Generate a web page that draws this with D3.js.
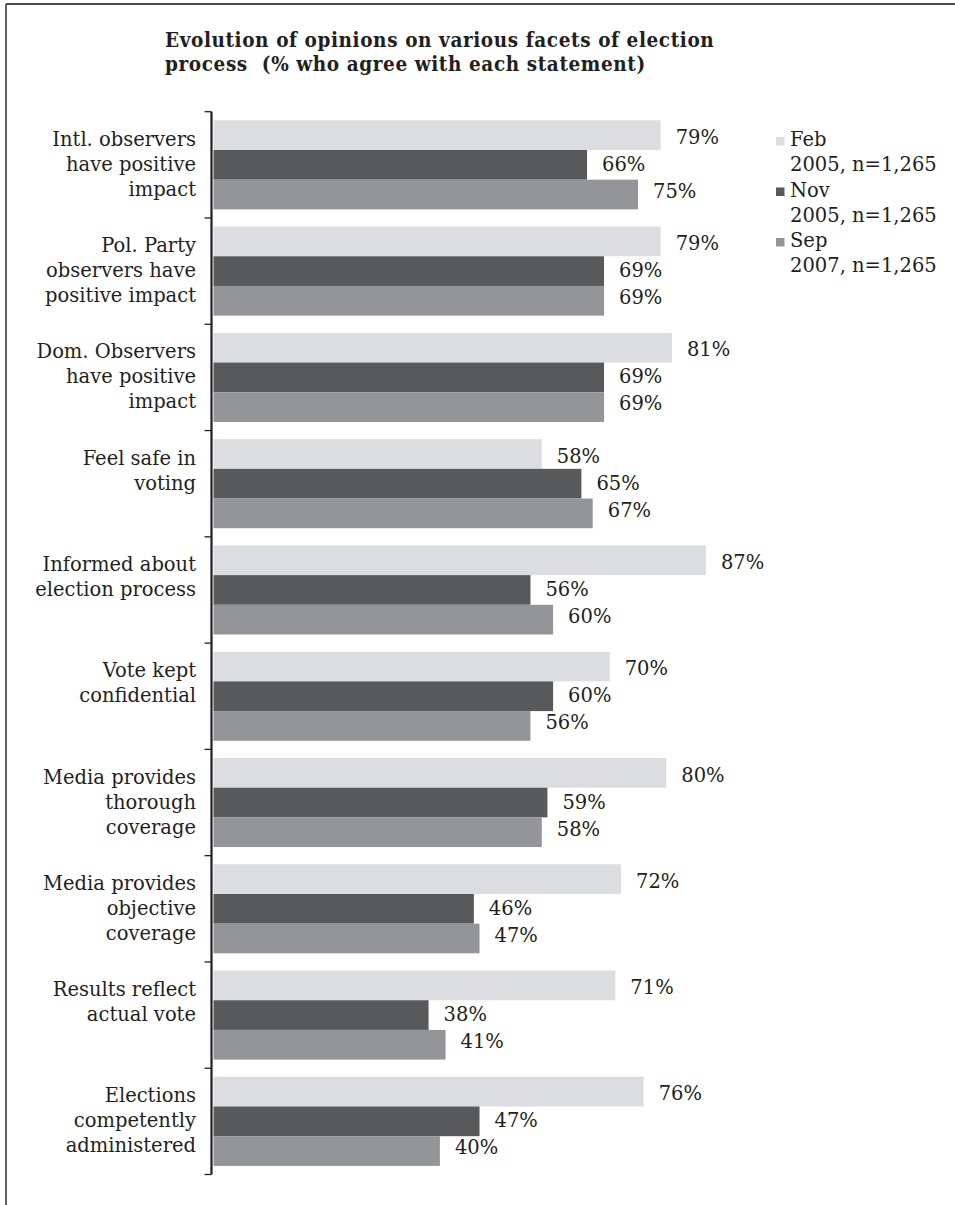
<!DOCTYPE html>
<html>
<head>
<meta charset="utf-8">
<script src="https://cdn.jsdelivr.net/npm/d3@7/dist/d3.min.js"></script>
<style>
  html, body { margin: 0; padding: 0; background: #ffffff; }
  svg { display: block; }
  text { font-family: "DejaVu Serif", serif; fill: #231f20; }
</style>
</head>
<body>
<svg id="chart" width="955" height="1205"></svg>
<script>
// Statements (each split into its display lines)
const categories = [
  ["Intl. observers", "have positive", "impact"],
  ["Pol. Party", "observers have", "positive impact"],
  ["Dom. Observers", "have positive", "impact"],
  ["Feel safe in", "voting"],
  ["Informed about", "election process"],
  ["Vote kept", "confidential"],
  ["Media provides", "thorough", "coverage"],
  ["Media provides", "objective", "coverage"],
  ["Results reflect", "actual vote"],
  ["Elections", "competently", "administered"]
];

// Survey waves and their legend lines
const seriesKeys = ["feb05", "nov05", "sep07"];
const seriesLegend = [
  ["Feb", "2005, n=1,265"],
  ["Nov", "2005, n=1,265"],
  ["Sep", "2007, n=1,265"]
];
const seriesColors = ["#dcdde0", "#58595b", "#939598"];

// % who agree, per statement
const feb05 = [79, 79, 81, 58, 87, 70, 80, 72, 71, 76];
const nov05 = [66, 69, 69, 65, 56, 60, 59, 46, 38, 47];
const sep07 = [75, 69, 69, 67, 60, 56, 58, 47, 41, 40];

const titleLines = [
  "Evolution of opinions on various facets of election",
  "process  (% who agree with each statement)"
];

const seriesValues = [feb05, nov05, sep07];
const rows = categories.map((lines, i) => ({
  key: i,
  lines,
  values: seriesKeys.map((k, s) => ({ key: k, s, value: seriesValues[s][i] }))
}));

const svg = d3.select("#chart");
const ink = "#231f20";

// Frame lines along the top and left edge
svg.append("line").attr("x1", 6).attr("x2", 955).attr("y1", 4).attr("y2", 4)
  .attr("stroke", "#4a4a4a").attr("stroke-width", 2);
svg.append("line").attr("x1", 6).attr("x2", 6).attr("y1", 4).attr("y2", 1205)
  .attr("stroke", "#3a3a3a").attr("stroke-width", 1.6);

// Title
const title = svg.append("text")
  .style("font-family", "'DejaVu Serif Condensed', 'DejaVu Serif', serif")
  .style("font-weight", "bold")
  .style("font-size", "20.5px")
  .style("letter-spacing", "0.6px");
titleLines.forEach((t, i) => {
  title.append("tspan").attr("x", 165).attr("y", 47 + i * 24).attr("xml:space", "preserve").text(t);
});

// Scales
const x = d3.scaleLinear().domain([0, 100]).range([213.5, 779.5]);
const y = d3.scaleBand().domain(rows.map(d => d.key)).range([111.7, 1174.5]).padding(0);
const ySub = d3.scaleBand().domain(seriesKeys).range([0, y.bandwidth()]).paddingInner(0).paddingOuter(0.29);

// Bars
const groups = svg.append("g").selectAll("g")
  .data(rows).join("g")
  .attr("transform", d => `translate(0,${y(d.key)})`);

groups.selectAll("rect")
  .data(d => d.values).join("rect")
  .attr("x", x(0))
  .attr("y", d => ySub(d.key))
  .attr("width", d => x(d.value) - x(0))
  .attr("height", ySub.bandwidth())
  .attr("fill", d => seriesColors[d.s]);

// Value labels, stacked slightly tighter than the bars around the group centre
const labelStep = 27;
groups.selectAll("text.val")
  .data(d => d.values).join("text")
  .attr("class", "val")
  .attr("x", d => x(d.value) + 15)
  .attr("y", d => y.bandwidth() / 2 + (d.s - 1) * labelStep + 6)
  .style("font-size", "19.5px")
  .text(d => d.value + "%");

// Category axis: vertical line with ticks on group boundaries
const axisX = 211.5;
const boundaries = rows.map(d => y(d.key)).concat([y.range()[1]]);
svg.append("line")
  .attr("x1", axisX).attr("x2", axisX)
  .attr("y1", y.range()[0]).attr("y2", y.range()[1])
  .attr("stroke", ink).attr("stroke-width", 2.2);
svg.append("g").selectAll("line")
  .data(boundaries).join("line")
  .attr("x1", axisX - 7).attr("x2", axisX)
  .attr("y1", d => d).attr("y2", d => d)
  .attr("stroke", ink).attr("stroke-width", 1.3);

// Category labels, right-aligned; the second line sits on the group centre
const lineH = 25;
const catLabels = svg.append("g").selectAll("text")
  .data(rows).join("text")
  .attr("text-anchor", "end")
  .style("font-size", "19.5px");
catLabels.each(function(d) {
  const cy = y(d.key) + y.bandwidth() / 2;
  d3.select(this).selectAll("tspan")
    .data(d.lines).join("tspan")
    .attr("x", 196)
    .attr("y", (t, i) => cy + (i - 1) * lineH + 6)
    .text(t => t);
});

// Legend
const legend = svg.append("g").selectAll("g")
  .data(seriesLegend).join("g")
  .attr("transform", (d, i) => `translate(776,${146 + i * 50.5})`);
legend.append("rect")
  .attr("x", 0).attr("y", -9).attr("width", 8.5).attr("height", 8.5)
  .attr("fill", (d, i) => seriesColors[i]);
legend.append("text")
  .style("font-size", "19.5px")
  .each(function(d) {
    d3.select(this).selectAll("tspan")
      .data(d).join("tspan")
      .attr("x", 14)
      .attr("y", (t, i) => i * 25)
      .text(t => t);
  });
</script>
</body>
</html>
